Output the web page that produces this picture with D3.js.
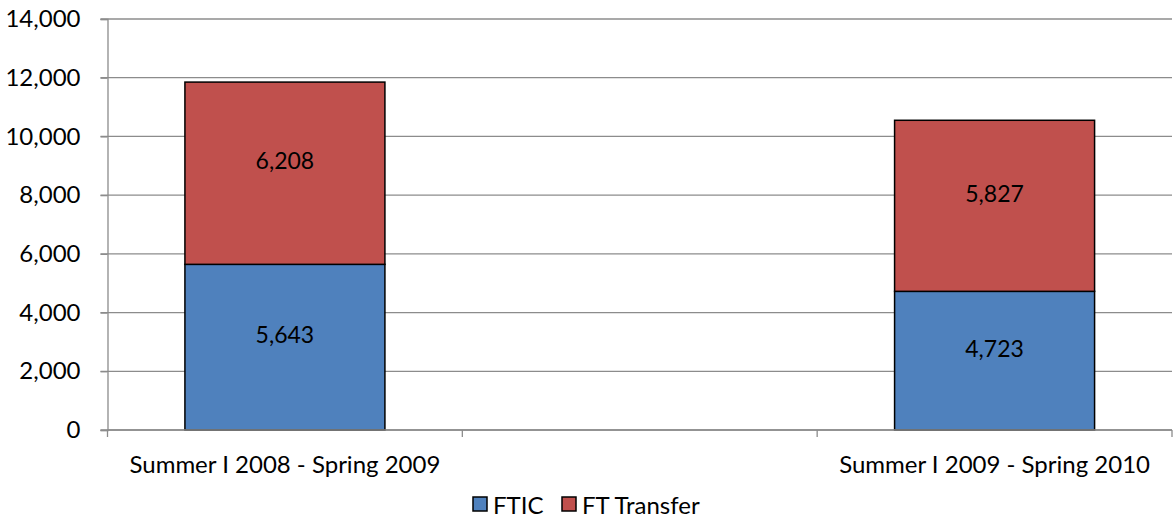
<!DOCTYPE html>
<html>
<head>
<meta charset="utf-8">
<script src="https://cdn.jsdelivr.net/npm/d3@7"></script>
<style>
  body { margin: 0; background: #fff; }
  svg text { font-family: Lato, "Open Sans", sans-serif; fill: #000; }
</style>
</head>
<body>
<svg width="1173" height="517"></svg>
<script>
// data
var categories = ["Summer I 2008 - Spring 2009", "", "Summer I 2009 - Spring 2010"];
var ftic       = [5643, null, 4723];
var ftTransfer = [6208, null, 5827];
var seriesNames = ["FTIC", "FT Transfer"];
var yTicks = [0, 2000, 4000, 6000, 8000, 10000, 12000, 14000];

var colors = ["#4F81BD", "#C0504D"];

var svg = d3.select("svg");
var margin = {left: 107.5, right: 1172, top: 19, bottom: 430};

var x = d3.scaleBand()
    .domain(categories.map(function(d, i){ return i; }))
    .range([margin.left, margin.right])
    .paddingInner(0)
    .paddingOuter(0);

var y = d3.scaleLinear()
    .domain([0, 14000])
    .range([margin.bottom, margin.top]);

var fmt = d3.format(",");

// grid lines
svg.append("g")
    .selectAll("line")
    .data(yTicks)
    .enter().append("line")
    .attr("x1", margin.left - 7)
    .attr("x2", margin.right)
    .attr("y1", function(d){ return y(d); })
    .attr("y2", function(d){ return y(d); })
    .attr("stroke", "#8c8c8c")
    .attr("stroke-width", 1.3);

// y axis
var yAxis = svg.append("g")
    .attr("transform", "translate(" + margin.left + ",0)")
    .call(d3.axisLeft(y).tickValues(yTicks).tickFormat(fmt).tickSize(7).tickPadding(20));
yAxis.select(".domain").attr("stroke", "#8c8c8c").attr("stroke-width", 1.3);
yAxis.selectAll(".tick line").attr("stroke", "#8c8c8c").attr("stroke-width", 1.3);
yAxis.selectAll("text").style("font-size", "24px").attr("fill", "#000");

// stacked bars
var rows = categories.map(function(c, i){
  return {i: i, v: [ftic[i], ftTransfer[i]]};
}).filter(function(d){ return d.v[0] != null; });

var barW = 200;
rows.forEach(function(r){
  var base = 0;
  r.v.forEach(function(val, s){
    var cx = x(r.i) + x.bandwidth() / 2;
    var y0 = y(base), y1 = y(base + val);
    svg.append("rect")
        .attr("x", cx - barW / 2)
        .attr("y", y1)
        .attr("width", barW)
        .attr("height", y0 - y1)
        .attr("fill", colors[s])
        .attr("stroke", "#000")
        .attr("stroke-width", 1.5);
    svg.append("text")
        .attr("x", cx)
        .attr("y", (y0 + y1) / 2 - 13)
        .attr("text-anchor", "middle")
        .attr("dominant-baseline", "central")
        .style("font-size", "23px")
        .text(fmt(val));
    base += val;
  });
});

// x axis
var xAxis = svg.append("g")
    .attr("transform", "translate(0," + margin.bottom + ")");
xAxis.append("line")
    .attr("x1", margin.left).attr("x2", margin.right)
    .attr("stroke", "#8c8c8c").attr("stroke-width", 1.3);
var xTicks = d3.range(categories.length + 1).map(function(i){
  return margin.left + i * x.step();
});
xAxis.selectAll(".xt")
    .data(xTicks)
    .enter().append("line")
    .attr("x1", function(d){ return d; })
    .attr("x2", function(d){ return d; })
    .attr("y1", 0).attr("y2", 7)
    .attr("stroke", "#8c8c8c").attr("stroke-width", 1.3);
xAxis.selectAll(".xl")
    .data(categories)
    .enter().append("text")
    .attr("x", function(d, i){ return x(i) + x.bandwidth() / 2; })
    .attr("y", 33)
    .attr("text-anchor", "middle")
    .attr("dominant-baseline", "central")
    .style("font-size", "24px")
    .text(function(d){ return d; });

// legend
var legend = svg.append("g");
var legX = [473, 562];
seriesNames.forEach(function(name, s){
  legend.append("rect")
      .attr("x", legX[s]).attr("y", 497)
      .attr("width", 14).attr("height", 14)
      .attr("fill", colors[s])
      .attr("stroke", "#000").attr("stroke-width", 1.5);
  legend.append("text")
      .attr("x", legX[s] + 20).attr("y", 504)
      .attr("dominant-baseline", "central")
      .style("font-size", "24px")
      .text(name);
});
</script>
</body>
</html>
